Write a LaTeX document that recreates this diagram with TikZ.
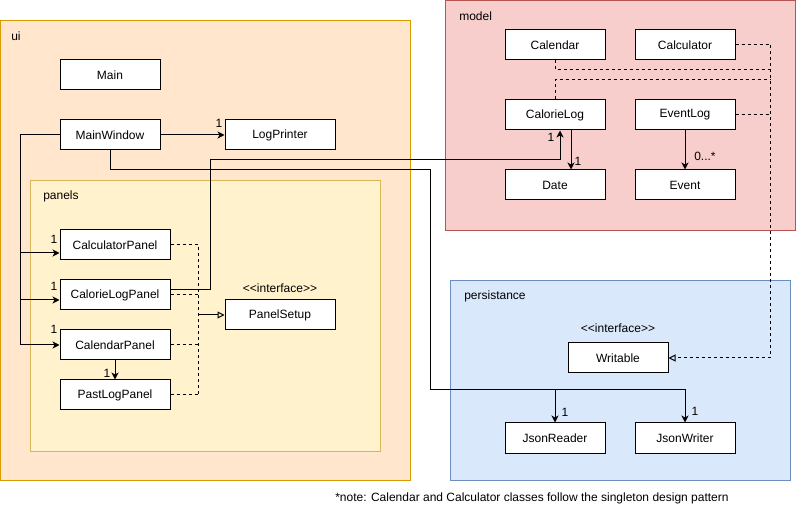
\documentclass[tikz,border=0pt]{standalone}
\usepackage{fontspec}
\setmainfont{Liberation Sans}
\usetikzlibrary{arrows.meta,calc}
\definecolor{uiFill}{HTML}{FFE6CC}
\definecolor{uiStroke}{HTML}{D79B00}
\definecolor{pnFill}{HTML}{FFF2CC}
\definecolor{pnStroke}{HTML}{D6B656}
\definecolor{mdFill}{HTML}{F8CECC}
\definecolor{mdStroke}{HTML}{B85450}
\definecolor{psFill}{HTML}{DAE8FC}
\definecolor{psStroke}{HTML}{6C8EBF}
\newcommand{\ifacetext}{<\kern0pt<\kern0pt interface\kern0pt>\kern0pt>}
\begin{document}
\begin{tikzpicture}[x=0.75pt,y=-0.75pt,
  cls/.style={draw=black, fill=white, line width=0.75pt, minimum height=22.5pt, inner sep=0pt, font=\fontsize{9}{11}\selectfont},
  wa/.style={minimum width=75pt},
  wb/.style={minimum width=82.5pt},
  container/.style={line width=0.75pt, inner sep=0pt, anchor=north west},
  lbl/.style={font=\fontsize{9}{11}\selectfont, inner sep=0pt},
  assoc/.style={line width=0.75pt, -{Stealth[length=5.25pt,width=5.25pt,inset=1.5pt]}},
  real/.style={line width=0.75pt, dash pattern=on 2.25pt off 2.25pt},
  realtip/.style={line width=0.75pt, -{Triangle[open,length=5.25pt,width=5.25pt]}}
]
\useasboundingbox (0,0) rectangle (796,516);

% containers
\node[container, fill=uiFill, draw=uiStroke, minimum width=307.5pt, minimum height=345pt] (ui) at (0.4,20) {};
\node[container, fill=pnFill, draw=pnStroke, minimum width=262.5pt, minimum height=202.5pt] (panels) at (30,180.5) {};
\node[container, fill=mdFill, draw=mdStroke, minimum width=262.2pt, minimum height=172.5pt] (model) at (445,0.4) {};
\node[container, fill=psFill, draw=psStroke, minimum width=255pt, minimum height=150pt] (pers) at (450,280) {};

\node[lbl, anchor=west] (uiLabel) at (11,36) {ui};
\node[lbl, anchor=west] (panelsLabel) at (43,196) {panels};
\node[lbl, anchor=west] (modelLabel) at (459,16) {model};
\node[lbl, anchor=west] (persLabel) at (464,296) {persistance};

% classes
\node[cls, wa] (Main) at (110,75) {Main};
\node[cls, wa] (MainWindow) at (110,135) {MainWindow};
\node[cls, wb] (LogPrinter) at (280,135) {LogPrinter};
\node[cls, wb] (CalculatorPanel) at (115,245) {CalculatorPanel};
\node[cls, wb] (CalorieLogPanel) at (115,295) {CalorieLogPanel};
\node[cls, wb] (CalendarPanel) at (115,345) {CalendarPanel};
\node[cls, wb] (PastLogPanel) at (115,395) {PastLogPanel};
\node[cls, wb] (PanelSetup) at (280,315) {PanelSetup};
\node[lbl] (psIface) at (280,288) {\ifacetext};

\node[cls, wa] (Calendar) at (555,45) {Calendar};
\node[cls, wa] (Calculator) at (685,45) {Calculator};
\node[cls, wa] (CalorieLog) at (555,115) {CalorieLog};
\node[cls, wa] (EventLog) at (685,115) {EventLog};
\node[cls, wa] (Date) at (555,185) {Date};
\node[cls, wa] (Event) at (685,185) {Event};

\node[cls, wa] (Writable) at (618,358) {Writable};
\node[lbl] (wrIface) at (618,328) {\ifacetext};
\node[cls, wa] (JsonReader) at (555,438) {JsonReader};
\node[cls, wa] (JsonWriter) at (685,438) {JsonWriter};

% ui associations
\draw[assoc] (MainWindow.east) -- (LogPrinter.west);
\node[lbl] (m1) at (219,123) {1};

\coordinate (trunk) at (20,135);
\draw[assoc] (MainWindow.west) -- (trunk) |- ($(CalculatorPanel.west)+(0,8)$);
\draw[assoc] (trunk) |- ($(CalorieLogPanel.west)+(0,5)$);
\draw[assoc] (trunk) |- (CalendarPanel.west);
\node[lbl] (m2) at (54,239) {1};
\node[lbl] (m3) at (54,286) {1};
\node[lbl] (m4) at (54,329) {1};

\draw[assoc] (CalendarPanel.south) -- (PastLogPanel.north);
\node[lbl] (m5) at (107,373) {1};

% CalorieLogPanel -> CalorieLog
\coordinate (clBend) at (210,160);
\draw[assoc] ($(CalorieLogPanel.east)+(0,-5)$) -| (clBend) -| ($(CalorieLog.south)+(5,0)$);
\node[lbl] (m6) at (551,137) {1};

% CalorieLog -> Date
\draw[assoc] ($(CalorieLog.south)+(16,0)$) -- ($(Date.north)+(16,0)$);
\node[lbl] (m7) at (578,161) {1};

% EventLog -> Event
\draw[assoc] (EventLog.south) -- (Event.north);
\node[lbl, anchor=west] (m8) at (694,156) {0...*};

% MainWindow -> Json
\coordinate (jA) at (430,170);
\coordinate (jB) at (430,390);
\coordinate (jSplit) at (555,390);
\draw[assoc] (MainWindow.south) |- (jA) -- (jB) -| (JsonWriter.north);
\draw[assoc] (jSplit) -- (JsonReader.north);
\node[lbl] (m9) at (565,412) {1};
\node[lbl] (m10) at (695,411) {1};

% panels realization
\coordinate (pvTop) at (198,245);
\coordinate (pvBot) at (198,395);
\coordinate (pvMid) at (198,315);
\draw[real] (CalculatorPanel.east) -- (pvTop) -- (pvBot);
\draw[real] (CalorieLogPanel.east) -- (198,295);
\draw[real] (CalendarPanel.east) -- (198,345);
\draw[real] (PastLogPanel.east) -- (pvBot);
\draw[realtip] (pvMid) -- (PanelSetup.west);

% model realization
\coordinate (rvTop) at (770,45);
\draw[real] (Calculator.east) -- (rvTop);
\draw[real] (Calendar.south) |- (770,70);
\draw[real] (CalorieLog.north) |- (770,80);
\draw[real] (EventLog.east) -- (770,115);
\draw[real, -{Triangle[open,length=5.25pt,width=5.25pt]}] (rvTop) |- (Writable.east);

% note
\node[font=\fontsize{9}{11}\selectfont, inner sep=0pt, anchor=west] (note) at (335,498) {*note: Calendar and Calculator classes follow the singleton design pattern};
\end{tikzpicture}
\end{document}
